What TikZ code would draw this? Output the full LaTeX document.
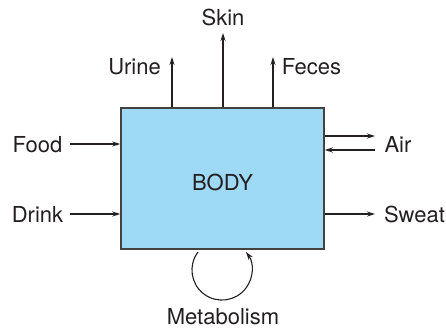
\documentclass[tikz,border=0pt]{standalone}
\usepackage{fontspec}
\setmainfont{TeX Gyre Heros}
\usetikzlibrary{arrows.meta}
\definecolor{bodyblue}{RGB}{158,218,246}
\definecolor{ink}{RGB}{35,31,32}
\begin{document}
\begin{tikzpicture}[x=1pt,y=-1pt,
  lbl/.style={font=\fontsize{22}{26}\selectfont, text=ink, inner sep=0pt, anchor=base},
  flow/.style={draw=ink, line width=1.1pt, -{Stealth[length=8pt,width=5pt]}}]
\useasboundingbox (0,0) rectangle (446,329);
\node[draw=ink!85, fill=bodyblue, line width=1.5pt, minimum width=203pt, minimum height=141pt, inner sep=0pt] (body) at (222.5,178.5) {};
\node[lbl] (bodylbl) at (222.5,190) {BODY};
% labels
\node[lbl] (skin) at (223,26) {Skin};
\node[lbl] (urine) at (134.5,74) {Urine};
\node[lbl] (feces) at (311.5,74) {Feces};
\node[lbl] (food) at (37.5,152) {Food};
\node[lbl] (drink) at (37.5,222) {Drink};
\node[lbl] (air) at (398,152) {Air};
\node[lbl] (sweat) at (414.5,222) {Sweat};
\node[lbl] (met) at (223,324) {Metabolism};
% arrow ends
\coordinate (urinetip) at (172,57);
\coordinate (skintip) at (223,33);
\coordinate (fecestip) at (273,57);
\coordinate (foodtail) at (70,144);
\coordinate (drinktail) at (70,214);
\coordinate (airout) at (375,136);
\coordinate (airin) at (375,150);
\coordinate (sweattip) at (375,214);
\coordinate (metstart) at (198,252);
% arrows
\draw[flow] (body.north -| urinetip) -- (urinetip);
\draw[flow] (body.north -| skintip) -- (skintip);
\draw[flow] (body.north -| fecestip) -- (fecestip);
\draw[flow] (foodtail) -- (foodtail -| body.west);
\draw[flow] (drinktail) -- (drinktail -| body.west);
\draw[flow] (airout -| body.east) -- (airout);
\draw[flow] (airin) -- (airin -| body.east);
\draw[flow] (sweattip -| body.east) -- (sweattip);
\draw[flow] (metstart) arc[start angle=217, end angle=-37, radius=30];
\end{tikzpicture}
\end{document}
